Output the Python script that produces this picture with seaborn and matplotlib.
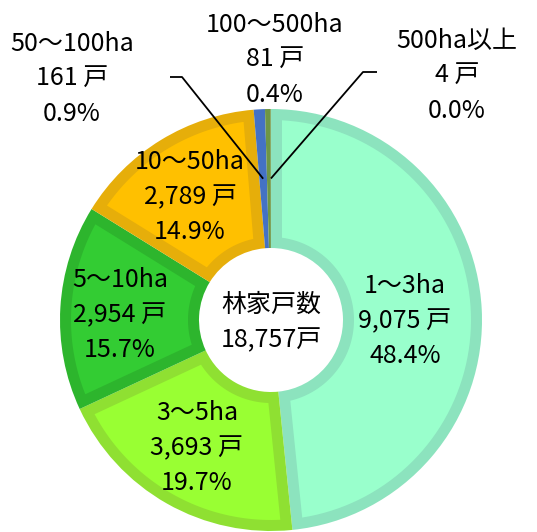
import numpy as np
import matplotlib
matplotlib.use("Agg")
import matplotlib.pyplot as plt
from matplotlib.patches import Polygon
import seaborn as sns

# Forestry households by holding size
categories = ["1～3ha", "3～5ha", "5～10ha", "10～50ha", "50～100ha", "100～500ha", "500ha以上"]
households = [9075, 3693, 2954, 2789, 161, 81, 4]
center_title = "林家戸数"

fill_colors = ["#99FFCC", "#99FF33", "#33CC33", "#FFC000", "#4472C4", "#6E9646", "#7FA04A"]
edge_colors = ["#8CE3BE", "#8FE032", "#2DB52D", "#E6AE0A", "#4472C4", "#6E9646", "#7FA04A"]

sns.set_theme(style="white")
plt.rcParams["font.family"] = ["Noto Sans CJK JP", "DejaVu Sans"]

W, H = 537, 532
fig = plt.figure(figsize=(W / 100, H / 100), dpi=100)
ax = fig.add_axes([0, 0, 1, 1])

cx, cy = 271, H - 320
R, r_in = 211, 72
b = 11  # width of the darker inner rim of each slice

total = sum(households)
wedges, _ = ax.pie(households, colors=edge_colors, startangle=90, counterclock=False,
                   radius=R, center=(cx, cy),
                   wedgeprops=dict(width=R - r_in, linewidth=0))


def inset_outline(t1, t2, ro, ri, off, n=80):
    """Points of the slice region lying at least `off` away from its outline."""
    pts = []
    for phi in np.linspace(t1 + np.arcsin(off / ro), t2 - np.arcsin(off / ro), n):
        pts.append((ro * np.cos(phi), ro * np.sin(phi)))
    for r in np.linspace(ro, ri, n):
        phi = t2 - np.arcsin(off / r)
        pts.append((r * np.cos(phi), r * np.sin(phi)))
    for phi in np.linspace(t2 - np.arcsin(off / ri), t1 + np.arcsin(off / ri), n):
        pts.append((ri * np.cos(phi), ri * np.sin(phi)))
    for r in np.linspace(ri, ro, n):
        phi = t1 + np.arcsin(off / r)
        pts.append((r * np.cos(phi), r * np.sin(phi)))
    return np.array(pts)


for w, fc in zip(wedges, fill_colors):
    t1, t2 = np.deg2rad(w.theta1), np.deg2rad(w.theta2)
    ro, ri = R - b, r_in + b
    if (t2 - t1) <= 2 * np.arcsin(b / ri) + 0.02:
        continue  # too thin for a rim: the slice stays one solid colour
    pts = inset_outline(t1, t2, ro, ri, b) + np.array([cx, cy])
    ax.add_patch(Polygon(pts, closed=True, facecolor=fc, edgecolor="none"))

ax.set_xlim(0, W)
ax.set_ylim(0, H)
ax.set_aspect("equal")
ax.axis("off")

fs = 18
line_gap = 35

# label block centres (top-left pixel origin) for each category
label_pos = [(405, 321), (197, 448), (120, 315), (190, 197), (72, 79), (275, 60), (457, 76)]
for cat, n, (lx, ly) in zip(categories, households, label_pos):
    lines = [cat, f"{n:,} 戸", f"{n / total * 100:.1f}%"]
    for i, s in enumerate(lines):
        ax.text(lx, H - (ly + (i - 1) * line_gap), s, ha="center", va="center",
                fontsize=fs, color="black")

# leader lines for the thin slices
cum = np.cumsum([0] + households) / total
r_mid = (R + r_in) / 2
leaders = {4: ((182, 77), (170, 77)), 6: ((363, 72), (377, 72))}
for idx, (knee, tail) in leaders.items():
    frac = (cum[idx] + cum[idx + 1]) / 2
    ang = np.deg2rad(90 - 360 * frac)
    ex, ey = cx + r_mid * np.cos(ang), cy + r_mid * np.sin(ang)
    ax.plot([tail[0], knee[0], ex], [H - tail[1], H - knee[1], ey],
            color="black", lw=1.3, solid_capstyle="butt")

ax.text(cx, H - 305, center_title, ha="center", va="center", fontsize=fs, color="black")
ax.text(cx, H - 340, f"{total:,}戸", ha="center", va="center", fontsize=fs, color="black")

fig.savefig("out.png", dpi=100)
